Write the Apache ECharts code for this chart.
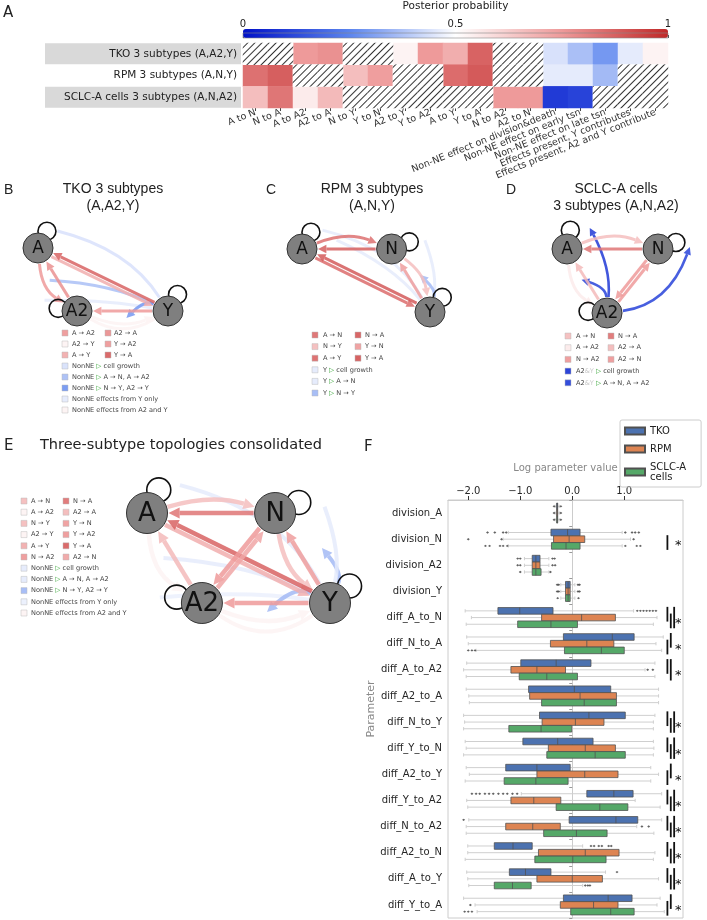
<!DOCTYPE html>
<html><head><meta charset="utf-8">
<script src="https://cdn.jsdelivr.net/npm/echarts@6/dist/echarts.min.js"></script>
<style>html,body{margin:0;padding:0;background:#fff}#c{width:707px;height:920px}</style>
</head><body><div id="c"></div>
<script>
// ================= DATA =================
const heatCols = ['A to N','N to A','A to A2','A2 to A','N to Y','Y to N','A2 to Y','Y to A2','A to Y','Y to A','N to A2','A2 to N',
  'Non-NE effect on division&death','Non-NE effect on early tsn','Non-NE effect on late tsn','Effects present, Y contributes','Effects present, A2 and Y contribute'];
const heatRows = ['TKO 3 subtypes (A,A2,Y)','RPM 3 subtypes (A,N,Y)','SCLC-A cells 3 subtypes (A,N,A2)'];
const probTKO  = [null,null,0.75,0.77,null,null,0.53,0.75,0.70,0.87,null,null,0.44,0.37,0.29,0.46,0.53];
const probRPM  = [0.84,0.88,null,null,0.66,0.74,null,null,0.85,0.89,null,null,0.46,0.46,0.36,null,null];
const probSCLC = [0.66,0.83,0.55,0.67,null,null,null,null,null,null,0.75,0.75,0.09,0.11,null,null,null];
const probCons = [0.66,0.83,0.53,0.67,0.66,0.74,0.53,0.75,0.70,0.87,0.75,0.72,0.46,0.46,0.36,0.47,0.53];

const edgesB = ['A to A2','A2 to A','A2 to Y','Y to A2','A to Y','Y to A'];
const edgesC = ['A to N','N to A','N to Y','Y to N','A to Y','Y to A'];
const edgesD = ['A to N','N to A','A to A2','A2 to A','N to A2','A2 to N'];
const edgesE = ['A to N','N to A','A to A2','A2 to A','N to Y','Y to N','A2 to Y','Y to A2','A to Y','Y to A','N to A2','A2 to N'];
// effect arcs: [source node, effect column]
const effectsB = [['Y','Non-NE effect on division&death'],['Y','Non-NE effect on early tsn'],['Y','Effects present, Y contributes'],['Y','Non-NE effect on late tsn'],['A2','Effects present, A2 and Y contribute']];
const effectsC = [['Y','Non-NE effect on division&death'],['Y','Non-NE effect on early tsn'],['Y','Non-NE effect on division&death'],['Y','Non-NE effect on late tsn']];
const effectsD = [['A2','Non-NE effect on division&death'],['A2','Non-NE effect on early tsn'],['A2','Non-NE effect on early tsn']];
const effectsE = [['Y','Non-NE effect on division&death'],['Y','Non-NE effect on early tsn'],['Y','Effects present, Y contributes'],['Y','Non-NE effect on late tsn'],['Y','Non-NE effect on late tsn'],['Y','Non-NE effect on division&death'],['A2','Effects present, A2 and Y contribute']];

const params = ['division_A','division_N','division_A2','division_Y','diff_A_to_N','diff_N_to_A','diff_A_to_A2','diff_A2_to_A','diff_N_to_Y','diff_Y_to_N','diff_A2_to_Y','diff_Y_to_A2','diff_N_to_A2','diff_A2_to_N','diff_A_to_Y','diff_Y_to_A'];
const groups = ['TKO','RPM','SCLC-A\ncells'];
// [lower whisker, q1, median, q3, upper whisker]
const boxTKO = [[-0.33,-0.30,-0.29,-0.28,-0.25],[-1.23,-0.41,-0.09,0.15,0.96],[-0.92,-0.77,-0.70,-0.62,-0.45],[-0.22,-0.13,-0.08,-0.04,0.05],
 [-2.06,-1.43,-1.01,-0.37,1.18],[-2.03,-0.17,0.77,1.19,1.75],[-2.03,-0.99,-0.31,0.36,1.59],[-2.04,-0.84,0.04,0.74,1.66],
 [-2.09,-0.63,0.32,1.02,1.59],[-2.06,-0.95,-0.28,0.40,1.56],[-2.04,-1.28,-0.68,-0.04,1.51],[-0.98,0.28,0.80,1.17,1.72],
 [-1.99,-0.06,0.84,1.26,1.72],[-2.01,-1.50,-1.14,-0.77,0.20],[-2.03,-1.21,-0.90,-0.41,0.64],[-2.09,-0.17,0.69,1.15,1.69]];
const boxRPM = [[-0.33,-0.30,-0.29,-0.28,-0.25],[-1.33,-0.36,-0.06,0.24,1.12],[-0.92,-0.77,-0.70,-0.62,-0.45],[-0.22,-0.13,-0.08,-0.04,0.05],
 [-1.94,-0.59,0.18,0.83,1.63],[-2.00,-0.42,0.28,0.80,1.61],[-2.09,-1.18,-0.68,-0.13,1.40],[-1.99,-0.82,0.15,0.85,1.66],
 [-2.07,-0.58,0.06,0.61,1.56],[-2.04,-0.46,0.25,0.83,1.57],[-1.98,-0.68,0.24,0.88,1.66],[-2.03,-1.18,-0.74,-0.22,1.21],
 [-2.04,-1.28,-0.76,-0.23,1.24],[-2.01,-0.65,0.25,0.90,1.59],[-2.01,-0.68,0.00,0.58,1.66],[-1.87,-0.23,0.41,0.88,1.63]];
const boxSCLC = [[-0.33,-0.30,-0.29,-0.28,-0.25],[-1.23,-0.40,-0.12,0.15,0.96],[-0.92,-0.77,-0.70,-0.60,-0.45],[-0.22,-0.13,-0.08,-0.04,0.05],
 [-2.04,-1.05,-0.41,0.10,1.56],[-1.85,-0.15,0.56,1.00,1.72],[-2.04,-1.02,-0.49,0.10,1.59],[-1.98,-0.59,0.23,0.85,1.66],
 [-2.09,-1.22,-0.60,-0.01,1.56],[-2.09,-0.49,0.44,1.02,1.56],[-2.06,-1.31,-0.70,-0.08,1.51],[-2.01,-0.31,0.53,1.07,1.69],
 [-2.04,-0.55,0.08,0.67,1.57],[-2.06,-0.72,0.01,0.65,1.56],[-1.99,-1.50,-1.15,-0.79,0.20],[-1.83,-0.03,0.74,1.19,1.77]];
// outliers: [parameter index, value]
const outTKO = [[0,-0.35],[0,-0.22],[1,-1.63],[1,-1.49],[1,-1.33],[1,-1.27],[1,1.02],[1,1.15],[1,1.21],[1,1.28],[2,-1.05],[2,-1.0],[2,-0.38],[2,-0.34],
 [3,-0.29],[3,-0.26],[3,0.11],[3,0.14],[4,1.25],[4,1.31],[4,1.37],[4,1.43],[4,1.49],[4,1.55],[4,1.61],
 [11,-1.93],[11,-1.85],[11,-1.78],[11,-1.68],[11,-1.60],[11,-1.52],[11,-1.42],[11,-1.33],[11,-1.25],[11,-1.15],[11,-1.06],
 [12,-2.09],[13,0.36],[13,0.42],[13,0.51],[13,0.57],[13,0.70],[13,0.75],[14,0.86]];
const outRPM = [[0,-0.35],[0,-0.22],[1,-2.0],[1,-1.36],[1,1.18],[2,-1.05],[2,-1.0],[2,-0.38],[2,-0.33],[3,-0.29],[3,-0.26],[3,0.11],[3,0.14],
 [6,1.45],[6,1.55],[12,1.34],[12,1.47],[15,-1.96]];
const outSCLC = [[0,-0.35],[0,-0.22],[1,-1.67],[1,-1.59],[1,-1.39],[1,-1.33],[1,-1.25],[1,1.02],[1,1.24],[1,1.31],[2,-1.0],[2,-0.42],
 [3,-0.28],[3,0.12],[5,-2.0],[5,-1.93],[5,-1.87],[14,0.25],[14,0.30],[14,0.34],[15,-2.07],[15,-2.0],[15,-1.93]];
// significance: parameter index and group pairs (0 TKO, 1 RPM, 2 SCLC-A)
const sigParams = [1,4,5,6,8,9,10,11,12,13,14,15];
const sigPairs = [[[1,2]],[[0,1],[1,2],[0,2]],[[1,2],[0,1]],[[0,1],[0,2]],[[0,1],[1,2],[0,2]],[[0,1],[1,2],[0,2]],
 [[1,2],[0,1]],[[0,1],[1,2],[0,2]],[[0,1],[1,2],[0,2]],[[0,1],[1,2],[0,2]],[[0,1],[1,2],[0,2]],[[1,2],[0,1]]];
const xTickVals = [-2,-1,0,1];

// ================= LAYOUT / STYLE =================
const FONT = 'DejaVu Sans';
const cmapStops = [[0,[0,16,200]],[0.25,[91,132,238]],[0.5,[255,255,255]],[0.75,[238,154,154]],[1,[192,40,40]]];
function cmap(p){
  for(let i=1;i<cmapStops.length;i++){
    if(p<=cmapStops[i][0]){const a=cmapStops[i-1],b=cmapStops[i];const t=(p-a[0])/(b[0]-a[0]);
      const c=a[1].map((v,k)=>Math.round(v+(b[1][k]-v)*t));return 'rgb('+c.join(',')+')';}
  }
  return 'rgb(192,40,40)';
}
const layoutB = {A:[0,1],A2:[0.3,0],Y:[1,0]};
const layoutC = {A:[0,1],N:[0.7,1],Y:[1,0]};
const layoutD = {A:[0,1],N:[1,1],A2:[0.44,0]};
const layoutE = {A:[0,1],N:[0.7,1],A2:[0.3,0],Y:[1,0]};
// edge style: [curvature, offset px]
const eStyleB = {'A to A2':[0.25,0],'A2 to A':[0,0],'A2 to Y':[0.2,0],'Y to A2':[0,0],'A to Y':[0,2],'Y to A':[0,2]};
const eStyleC = {'A to N':[-0.2,0],'N to A':[0,0],'N to Y':[-0.2,0],'Y to N':[0,0],'A to Y':[0,2],'Y to A':[0,2]};
const eStyleD = {'A to N':[-0.2,0],'N to A':[0,0],'A to A2':[0.25,0],'A2 to A':[0,0],'N to A2':[0,2],'A2 to N':[0,2]};
const eStyleE = {'A to N':[-0.15,0],'N to A':[0,0],'A to A2':[0.25,0],'A2 to A':[0,0],'N to Y':[0.2,0],'Y to N':[0,0],
  'A2 to Y':[0.2,0],'Y to A2':[0,0],'A to Y':[0,2.5],'Y to A':[0,2.5],'N to A2':[0,2.5],'A2 to N':[0,2.5]};
// effect arc targets (node or point in panel units), curvature, arrow
const fxB = [[[0.15,1.27],0.2,false],[[0.09,0.49],0.1,false],[[0.05,0.17],0.05,false],[[0.68,-0.11],0.35,true],['Y',0.3,false]];
const fxC = [[[0.16,1.30],0.22,false],[[0.27,1.14],0.12,false],[[0.96,1.14],0.15,false],[[0.92,0.59],0.3,true]];
const fxD = [[[0.25,1.33],0.15,true],[[1.35,1.03],0.3,true],[[0.16,0.52],0.35,true]];
const fxE = [[[0.18,1.31],0.22,false],[[0.09,0.5],0.1,false],[[0.07,0.06],0.06,false],[[0.956,0.61],0.3,true],[[0.656,-0.1],0.35,true],[[0.97,1.07],0.15,false],['Y',0.35,false]];
const loopsB = {A:-62,A2:188,Y:-60};
const loopsC = {A:-62,N:-22,Y:-50};
const loopsD = {A:-80,N:-20,A2:185};
const loopsE = {A:-63,N:-24,A2:193,Y:-41};
const OP = 0.85;

function buildItems(layout, probs, edges, eStyle, effects, fx, loops){
  const items=[];
  effects.forEach((ef,i)=>{
    const f=fx[i]; const tNode=typeof f[0]==='string';
    items.push({kind:'edge',s:layout[ef[0]],t:tNode?layout[f[0]]:f[0],sNode:true,tNode:tNode,p:probs[heatCols.indexOf(ef[1])],curv:f[1],off:0,arrow:f[2],fx:true});
  });
  edges.forEach(name=>{
    const pr=name.split(' to '); const st=eStyle[name];
    items.push({kind:'edge',s:layout[pr[0]],t:layout[pr[1]],sNode:true,tNode:true,p:probs[heatCols.indexOf(name)],curv:st[0],off:st[1],arrow:true,fx:false});
  });
  Object.keys(loops).forEach(n=>items.push({kind:'loop',c:layout[n],ang:loops[n]}));
  Object.keys(layout).forEach(n=>items.push({kind:'node',c:layout[n],label:n}));
  return items;
}
function netSeries(gi, items, R, lw, fxLw, loopR, fs){
  return {type:'custom',xAxisIndex:gi,yAxisIndex:gi,silent:true,clip:false,z:3,
    data:items.map(it=>it.kind==='edge'?it.s.slice():it.c.slice()),
    renderItem:function(params,api){
      const it=items[params.dataIndex];
      if(it.kind==='edge'){
        let a=api.coord(it.s),b=api.coord(it.t);
        const dx=b[0]-a[0],dy=b[1]-a[1],L=Math.hypot(dx,dy),nx=-dy/L,ny=dx/L;
        a=[a[0]+nx*it.off,a[1]+ny*it.off];b=[b[0]+nx*it.off,b[1]+ny*it.off];
        const cp=[(a[0]+b[0])/2+nx*it.curv*L,(a[1]+b[1])/2+ny*it.curv*L];
        const nrm=v=>{const l=Math.hypot(v[0],v[1])||1;return [v[0]/l,v[1]/l];};
        const s=nrm([cp[0]-a[0],cp[1]-a[1]]),e=nrm([b[0]-cp[0],b[1]-cp[1]]);
        const rr=Math.sqrt(Math.max(R*R-it.off*it.off,0))+1;
        if(it.sNode)a=[a[0]+s[0]*rr,a[1]+s[1]*rr];
        if(it.tNode)b=[b[0]-e[0]*rr,b[1]-e[1]*rr];
        const w=it.fx?fxLw:lw; const color=cmap(it.p); const ch=[];
        let end=b;
        if(it.arrow){const al=w*1.8+3,aw=w*0.9+1.5;const base=[b[0]-e[0]*al,b[1]-e[1]*al];end=base;
          ch.push({type:'polygon',shape:{points:[b,[base[0]-e[1]*aw,base[1]+e[0]*aw],[base[0]+e[1]*aw,base[1]-e[0]*aw]]},style:{fill:color,opacity:OP}});}
        ch.unshift({type:'bezierCurve',shape:{x1:a[0],y1:a[1],x2:end[0],y2:end[1],cpx1:cp[0],cpy1:cp[1]},style:{stroke:color,lineWidth:w,fill:'none',opacity:OP}});
        return {type:'group',children:ch};
      }
      const c=api.coord(it.c);
      if(it.kind==='loop'){const t=it.ang*Math.PI/180;const d=R+loopR*0.45;
        return {type:'circle',shape:{cx:c[0]+Math.cos(t)*d,cy:c[1]+Math.sin(t)*d,r:loopR},style:{fill:'none',stroke:'#111',lineWidth:1.6}};}
      return {type:'group',children:[
        {type:'circle',shape:{cx:c[0],cy:c[1],r:R},style:{fill:'#7f7f7f',stroke:'#333',lineWidth:1}},
        {type:'text',x:c[0],y:c[1]+1,style:{text:it.label,font:fs+'px "'+FONT+'"',fill:'#111',align:'center',verticalAlign:'middle'}}]};
    }};
}

// ---------- legends for network panels ----------
function legendEls(rows, x1, tx1, x2, tx2, y0, dy, sq, fs){
  const els=[];
  rows.forEach((row,r)=>{
    const y=y0+r*dy;
    row.forEach((it,k)=>{
      const sx=k===0?x1:x2, tx=k===0?tx1:tx2;
      els.push({type:'rect',shape:{x:sx,y:y-sq/2,width:sq,height:sq},style:{fill:cmap(it[0]),stroke:'#bbb',lineWidth:0.5,opacity:0.95}});
      els.push({type:'text',x:tx,y:y,style:{text:it[1],font:fs+'px "'+FONT+'"',fill:'#444',verticalAlign:'middle',
        rich:{g:{fill:'#2ca02c',font:fs+'px "'+FONT+'"'},l:{fill:'#c8c8c8',font:fs+'px "'+FONT+'"'}}}});
    });
  });
  return els;
}
const P=(arr,name)=>arr[heatCols.indexOf(name)];
const G='{g|\u25B7}';
const legB=[[[P(probTKO,'A to A2'),'A \u2192 A2'],[P(probTKO,'A2 to A'),'A2 \u2192 A']],[[P(probTKO,'A2 to Y'),'A2 \u2192 Y'],[P(probTKO,'Y to A2'),'Y \u2192 A2']],
 [[P(probTKO,'A to Y'),'A \u2192 Y'],[P(probTKO,'Y to A'),'Y \u2192 A']],[[probTKO[12],'NonNE '+G+' cell growth']],[[probTKO[13],'NonNE '+G+' A \u2192 N, A \u2192 A2']],
 [[probTKO[14],'NonNE '+G+' N \u2192 Y, A2 \u2192 Y']],[[probTKO[15],'NonNE effects from Y only']],[[probTKO[16],'NonNE effects from A2 and Y']]];
const legC=[[[P(probRPM,'A to N'),'A \u2192 N'],[P(probRPM,'N to A'),'N \u2192 A']],[[P(probRPM,'N to Y'),'N \u2192 Y'],[P(probRPM,'Y to N'),'Y \u2192 N']],
 [[P(probRPM,'A to Y'),'A \u2192 Y'],[P(probRPM,'Y to A'),'Y \u2192 A']],[[probRPM[12],'Y '+G+' cell growth']],[[probRPM[13],'Y '+G+' A \u2192 N']],[[probRPM[14],'Y '+G+' N \u2192 Y']]];
const legD=[[[P(probSCLC,'A to N'),'A \u2192 N'],[P(probSCLC,'N to A'),'N \u2192 A']],[[P(probSCLC,'A to A2'),'A \u2192 A2'],[P(probSCLC,'A2 to A'),'A2 \u2192 A']],
 [[P(probSCLC,'N to A2'),'N \u2192 A2'],[P(probSCLC,'A2 to N'),'A2 \u2192 N']],[[probSCLC[12],'A2{l|&Y} '+G+' cell growth']],[[probSCLC[13],'A2{l|&Y} '+G+' A \u2192 N, A \u2192 A2']]];
const legE=[[[P(probCons,'A to N'),'A \u2192 N'],[P(probCons,'N to A'),'N \u2192 A']],[[P(probCons,'A to A2'),'A \u2192 A2'],[P(probCons,'A2 to A'),'A2 \u2192 A']],
 [[P(probCons,'N to Y'),'N \u2192 Y'],[P(probCons,'Y to N'),'Y \u2192 N']],[[P(probCons,'A2 to Y'),'A2 \u2192 Y'],[P(probCons,'Y to A2'),'Y \u2192 A2']],
 [[P(probCons,'A to Y'),'A \u2192 Y'],[P(probCons,'Y to A'),'Y \u2192 A']],[[P(probCons,'N to A2'),'N \u2192 A2'],[P(probCons,'A2 to N'),'A2 \u2192 N']],
 [[probCons[12],'NonNE '+G+' cell growth']],[[probCons[13],'NonNE '+G+' A \u2192 N, A \u2192 A2']],[[probCons[14],'NonNE '+G+' N \u2192 Y, A2 \u2192 Y']],
 [[probCons[15],'NonNE effects from Y only']],[[probCons[16],'NonNE effects from A2 and Y']]];

function txt(x,y,text,size,family,align,color){
  return {type:'text',x:x,y:y,style:{text:text,font:size+'px "'+(family||FONT)+'"',fill:color||'#222',align:align||'left',verticalAlign:'middle'}};
}

// ================= CHART =================
const chart = echarts.init(document.getElementById('c'), null, {renderer:'canvas',width:707,height:920});

const heatData=[], hatchData=[];
[probTKO,probRPM,probSCLC].forEach((row,r)=>row.forEach((v,c)=>{ if(v==null) hatchData.push([c,r,1]); else heatData.push([c,r,v]); }));

const itemsB=buildItems(layoutB,probTKO,edgesB,eStyleB,effectsB,fxB,loopsB);
const itemsC=buildItems(layoutC,probRPM,edgesC,eStyleC,effectsC,fxC,loopsC);
const itemsD=buildItems(layoutD,probSCLC,edgesD,eStyleD,effectsD,fxD,loopsD);
const itemsE=buildItems(layoutE,probCons,edgesE,eStyleE,effectsE,fxE,loopsE);

const boxColors=['#4c72b0','#dd8452','#55a868'];
const BOFF=6.7, BH=6.6;
function boxSeries(g, arr){
  return {type:'custom',name:groups[g],xAxisIndex:6,yAxisIndex:6,z:4,
    itemStyle:{color:boxColors[g],borderColor:'#505050',borderWidth:0.8},
    encode:{x:[1,2,3,4,5],y:0},
    data:arr.map((b,i)=>[i].concat(b)),
    renderItem:function(params,api){
      const cat=api.value(0);
      const px=k=>api.coord([api.value(k),cat])[0];
      const cy=api.coord([0,cat])[1]+(g-1)*BOFF;
      const lo=px(1),q1=px(2),md=px(3),q3=px(4),hi=px(5);
      const wl={stroke:'#cfcfcf',lineWidth:1};
      return {type:'group',children:[
        {type:'line',shape:{x1:lo,y1:cy,x2:q1,y2:cy},style:wl},
        {type:'line',shape:{x1:q3,y1:cy,x2:hi,y2:cy},style:wl},
        {type:'line',shape:{x1:lo,y1:cy-BH/4,x2:lo,y2:cy+BH/4},style:wl},
        {type:'line',shape:{x1:hi,y1:cy-BH/4,x2:hi,y2:cy+BH/4},style:wl},
        {type:'rect',shape:{x:q1,y:cy-BH/2,width:Math.max(q3-q1,1),height:BH},style:{fill:boxColors[g],stroke:'#505050',lineWidth:0.8}},
        {type:'line',shape:{x1:md,y1:cy-BH/2,x2:md,y2:cy+BH/2},style:{stroke:'#505050',lineWidth:0.8}}]};
    }};
}
function outSeries(g, arr){
  return {type:'scatter',name:'out'+g,xAxisIndex:6,yAxisIndex:6,z:5,silent:true,symbol:'diamond',symbolSize:[3,2.4],
    symbolOffset:[0,(g-1)*BOFF],itemStyle:{color:'#3c3c3c'},data:arr.map(o=>[o[1],o[0]])};
}

const graphics=[
  txt(3,13,'A',15), txt(4,190,'B',14,'Liberation Sans'), txt(266,190,'C',14,'Liberation Sans'), txt(506,190,'D',14,'Liberation Sans'),
  txt(4,446,'E',15), txt(364,447,'F',15),
  txt(113,189,'TKO 3 subtypes',14,'Liberation Sans','center'), txt(113,206,'(A,A2,Y)',14,'Liberation Sans','center'),
  txt(372,189,'RPM 3 subtypes',14,'Liberation Sans','center'), txt(372,206,'(A,N,Y)',14,'Liberation Sans','center'),
  txt(616,189,'SCLC-A cells',14,'Liberation Sans','center'), txt(616,206,'3 subtypes (A,N,A2)',14,'Liberation Sans','center'),
  txt(181,445,'Three-subtype topologies consolidated',14.5,FONT,'center','#222')
].concat(legendEls(legB,62,72,105,114,333,11,6,6.6))
 .concat(legendEls(legC,312,323,355,365,335,11.6,6,6.6))
 .concat(legendEls(legD,565,576,608,618,336,11.7,6,6.6))
 .concat(legendEls(legE,21,31,63,73,501,11.2,6,6.6));

const hiddenAxis=gi=>({gridIndex:gi,type:'value',min:0,max:1,show:false});

const option={
  animation:false,
  backgroundColor:'#fff',
  textStyle:{fontFamily:FONT},
  grid:[
    {left:243,top:43,width:425,height:65},
    {left:243,top:29,width:425,height:9,show:true,borderColor:'#888',borderWidth:0.6,z:10,backgroundColor:'transparent'},
    {left:38,top:248,width:130,height:63},
    {left:302,top:249,width:128,height:63},
    {left:567,top:249,width:91,height:64},
    {left:147,top:513,width:183,height:90},
    {left:448,top:500,width:235,height:418,show:true,borderColor:'#cccccc',borderWidth:1}
  ],
  xAxis:[
    {gridIndex:0,type:'category',data:heatCols,axisLine:{show:false},splitLine:{show:false},
      axisTick:{show:true,alignWithLabel:true,length:3,lineStyle:{color:'#444'}},
      axisLabel:{rotate:22,interval:0,fontSize:9.5,color:'#333',margin:4,fontFamily:FONT}},
    {gridIndex:1,type:'value',min:0,max:1,interval:0.5,position:'top',axisLine:{show:false},splitLine:{show:false},
      axisTick:{show:true,length:3,lineStyle:{color:'#444'}},axisLabel:{fontSize:10,color:'#222',margin:4,formatter:v=>String(v)},
      name:'Posterior probability',nameLocation:'middle',nameGap:21,nameTextStyle:{fontSize:10.5,color:'#222'}},
    hiddenAxis(2),hiddenAxis(3),hiddenAxis(4),hiddenAxis(5),
    {gridIndex:6,type:'value',position:'top',min:-2.39,max:2.13,splitLine:{show:false},
      axisLine:{show:true,lineStyle:{color:'#cccccc'}},
      axisTick:{show:true,length:4,customValues:xTickVals,lineStyle:{color:'#333'}},
      axisLabel:{customValues:xTickVals,fontSize:10,color:'#262626',margin:4,formatter:v=>(v<0?'\u2212':'')+Math.abs(v).toFixed(1)},
      name:'Log parameter value',nameLocation:'middle',nameGap:27,nameTextStyle:{fontSize:10,color:'#888'}}
  ],
  yAxis:[
    {gridIndex:0,type:'category',data:heatRows,inverse:true,axisLine:{show:false},axisTick:{show:false},
      axisLabel:{margin:2,formatter:(v,i)=>i===1?'{n|'+v+'}':'{g|'+v+'}',
        rich:{g:{backgroundColor:'#d9d9d9',width:192,height:21,lineHeight:21,align:'right',padding:[0,4,0,0],fontSize:10.5,color:'#222',fontFamily:FONT},
              n:{width:192,height:21,lineHeight:21,align:'right',padding:[0,4,0,0],fontSize:10.5,color:'#222',fontFamily:FONT}}}},
    {gridIndex:1,type:'value',show:false,min:0,max:1},
    hiddenAxis(2),hiddenAxis(3),hiddenAxis(4),hiddenAxis(5),
    {gridIndex:6,type:'category',data:params,inverse:true,
      axisLine:{show:true,lineStyle:{color:'#cccccc'}},axisTick:{show:true,length:3,lineStyle:{color:'#999'}},
      axisLabel:{fontSize:10,color:'#262626',margin:6},
      name:'Parameter',nameLocation:'middle',nameGap:71,nameRotate:90,nameTextStyle:{fontSize:11,color:'#888'}}
  ],
  visualMap:{type:'continuous',min:0,max:1,seriesIndex:0,orient:'horizontal',left:243,top:29,itemWidth:9,itemHeight:425,
    calculable:false,hoverLink:false,padding:0,text:null,showLabel:false,inRange:{color:cmapStops.map(s=>cmap(s[0]))}},
  legend:{data:groups,left:620,top:420,orient:'vertical',icon:'rect',itemWidth:20,itemHeight:7,itemGap:8,
    padding:[6,15,5,4],borderColor:'#cccccc',borderWidth:1,borderRadius:2,textStyle:{fontSize:10,color:'#222',lineHeight:10},selectedMode:false},
  graphic:graphics,
  series:[
    {type:'heatmap',xAxisIndex:0,yAxisIndex:0,data:heatData,itemStyle:{borderWidth:0},emphasis:{disabled:true}},
    {type:'heatmap',xAxisIndex:0,yAxisIndex:0,data:hatchData,emphasis:{disabled:true},
      itemStyle:{color:'#ffffff',decal:{symbol:'rect',symbolSize:1,dashArrayX:[1,0],dashArrayY:[1,4],rotation:-Math.PI/4,color:'#333',backgroundColor:'#ffffff'}}},
    netSeries(2,itemsB,15,3,3,9,17),
    netSeries(3,itemsC,15,3,3,9,17),
    netSeries(4,itemsD,15,3,2.6,9,17),
    netSeries(5,itemsE,20.5,4.5,4,12,26),
    boxSeries(0,boxTKO),boxSeries(1,boxRPM),boxSeries(2,boxSCLC),
    outSeries(0,outTKO),outSeries(1,outRPM),outSeries(2,outSCLC),
    {type:'custom',xAxisIndex:6,yAxisIndex:6,z:6,silent:true,clip:false,
      data:sigParams.map((c,i)=>[2.0,c,i]),encode:{x:0,y:1},
      renderItem:function(params,api){
        const cat=api.value(1),idx=api.value(2);
        const cy=api.coord([0,cat])[1];
        const ch=[];
        sigPairs[idx].forEach((pr,k)=>{
          const x=api.coord([1.83+0.065*k,cat])[0];
          ch.push({type:'line',shape:{x1:x,y1:cy+(pr[0]-1)*BOFF-4,x2:x,y2:cy+(pr[1]-1)*BOFF+4},style:{stroke:'#111',lineWidth:1.8}});
        });
        const sx=api.coord([2.04,cat])[0];
        ch.push({type:'text',x:sx,y:cy+6,style:{text:'*',font:'13px "'+FONT+'"',fill:'#111',align:'center',verticalAlign:'middle'}});
        return {type:'group',children:ch};
      }}
  ]
};
chart.setOption(option);
</script></body></html>
